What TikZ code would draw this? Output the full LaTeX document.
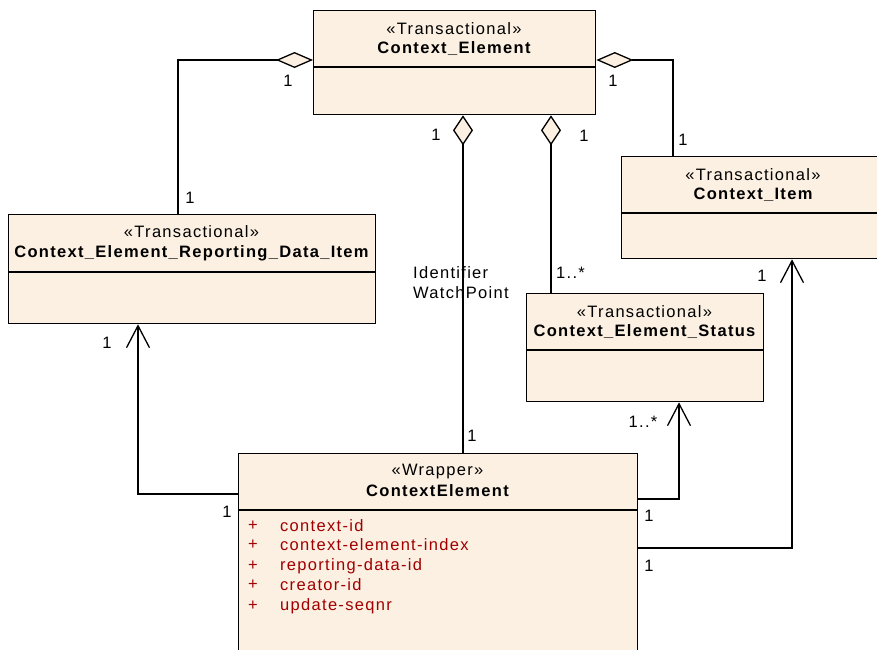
\documentclass[tikz,border=0pt]{standalone}
\usepackage{fontspec}
\setmainfont{Liberation Sans}[LetterSpace=7.9]
\usetikzlibrary{arrows.meta}
\definecolor{cream}{RGB}{251,240,226}
\definecolor{attr}{RGB}{160,0,0}
\begin{document}
\begin{tikzpicture}[x=1pt,y=-1pt,
  font=\fontsize{16.5}{19}\selectfont,
  classbox/.style={draw, fill=cream, line width=1.3pt, rectangle, inner sep=0pt, anchor=north west},
  stereo/.style={inner sep=0pt},
  cname/.style={inner sep=0pt, font=\fontsize{16.5}{19}\selectfont\bfseries},
  lbl/.style={inner sep=0pt},
  attrtxt/.style={inner sep=0pt, anchor=west, text=attr},
  conn/.style={line width=1.3pt, line join=miter},
  divider/.style={line width=1.3pt},
  hagg/.tip={Diamond[length=37pt,width=16pt,fill=cream,line join=miter]},
  vagg/.tip={Diamond[length=30pt,width=20pt,fill=cream,line join=miter]},
  opena/.tip={Straight Barb[length=22pt,width=23pt,line join=miter,line cap=butt]}
]
\useasboundingbox (0,0) rectangle (877,649);

% classes
\node[classbox, minimum width=282pt, minimum height=104pt] (ce) at (313,10) {};
\draw[divider] ([yshift=-57pt]ce.north west) -- ([yshift=-57pt]ce.north east);
\node[stereo] (ceS) at (454,29) {«Transactional»};
\node[cname] (ceN) at (454,49) {Context\_Element};

\node[classbox, minimum width=367pt, minimum height=109pt] (cerdi) at (8,214) {};
\draw[divider] ([yshift=-58pt]cerdi.north west) -- ([yshift=-58pt]cerdi.north east);
\node[stereo] (cerdiS) at (191.5,232) {«Transactional»};
\node[cname] (cerdiN) at (191.5,253) {Context\_Element\_Reporting\_Data\_Item};

\node[classbox, minimum width=264pt, minimum height=102pt] (ci) at (621,156) {};
\draw[divider] ([yshift=-57pt]ci.north west) -- ([yshift=-57pt]ci.north east);
\node[stereo] (ciS) at (753,175) {«Transactional»};
\node[cname] (ciN) at (753,195) {Context\_Item};

\node[classbox, minimum width=237pt, minimum height=108pt] (ces) at (526,293) {};
\draw[divider] ([yshift=-57pt]ces.north west) -- ([yshift=-57pt]ces.north east);
\node[stereo] (cesS) at (644.5,312) {«Transactional»};
\node[cname] (cesN) at (644.5,332) {Context\_Element\_Status};

\node[classbox, minimum width=399pt, minimum height=230pt] (wr) at (238,453) {};
\draw[divider] ([yshift=-57pt]wr.north west) -- ([yshift=-57pt]wr.north east);
\node[stereo] (wrS) at (437.5,472) {«Wrapper»};
\node[cname] (wrN) at (437.5,491) {ContextElement};
\foreach \i/\t/\yy in {1/context-id/526, 2/context-element-index/545, 3/reporting-data-id/566, 4/creator-id/585, 5/update-seqnr/606}{
  \node[attrtxt] (wrP\i) at (248,\yy) {+};
  \node[attrtxt] (wrA\i) at (280,\yy) {\t};
}

% anchor points
\coordinate (d1) at ([xshift=150pt]ce.south west);
\coordinate (d2) at ([xshift=238pt]ce.south west);
\coordinate (wl) at ([yshift=-41pt]wr.north west);
\coordinate (wr1) at ([yshift=-46pt]wr.north east);
\coordinate (wr2) at ([yshift=-95pt]wr.north east);

% aggregations
\draw[conn, hagg-] ([yshift=-50pt]ce.north west) -| ([xshift=170pt]cerdi.north west);
\draw[conn, hagg-] ([yshift=-50pt]ce.north east) -| ([xshift=52pt]ci.north west);
\draw[conn, vagg-] (d1) -- (d1 |- wr.north);
\draw[conn, vagg-] (d2) -- (d2 |- ces.north);

% navigable associations
\draw[conn, -opena] (wl) -| ([xshift=130pt]cerdi.south west);
\draw[conn, -opena] (wr1) -| ([xshift=153pt]ces.south west);
\draw[conn, -opena] (wr2) -| ([xshift=171pt]ci.south west);

% multiplicities and role labels
\node[lbl] (m1) at (288,81) {1};
\node[lbl] (m2) at (190,198) {1};
\node[lbl] (m3) at (613,81) {1};
\node[lbl] (m4) at (683,140) {1};
\node[lbl] (m5) at (436,135) {1};
\node[lbl] (m6) at (584,136) {1};
\node[lbl, anchor=west] (role1) at (413,273) {Identifier};
\node[lbl, anchor=west] (role2) at (413,293) {WatchPoint};
\node[lbl, anchor=west] (m7) at (556,273) {1..*};
\node[lbl] (m8) at (762,276) {1};
\node[lbl] (m9) at (643,422) {1..*};
\node[lbl] (m10) at (472,436) {1};
\node[lbl] (m11) at (107,343) {1};
\node[lbl] (m12) at (227,512) {1};
\node[lbl] (m13) at (649,516) {1};
\node[lbl] (m14) at (649,566) {1};
\end{tikzpicture}
\end{document}
